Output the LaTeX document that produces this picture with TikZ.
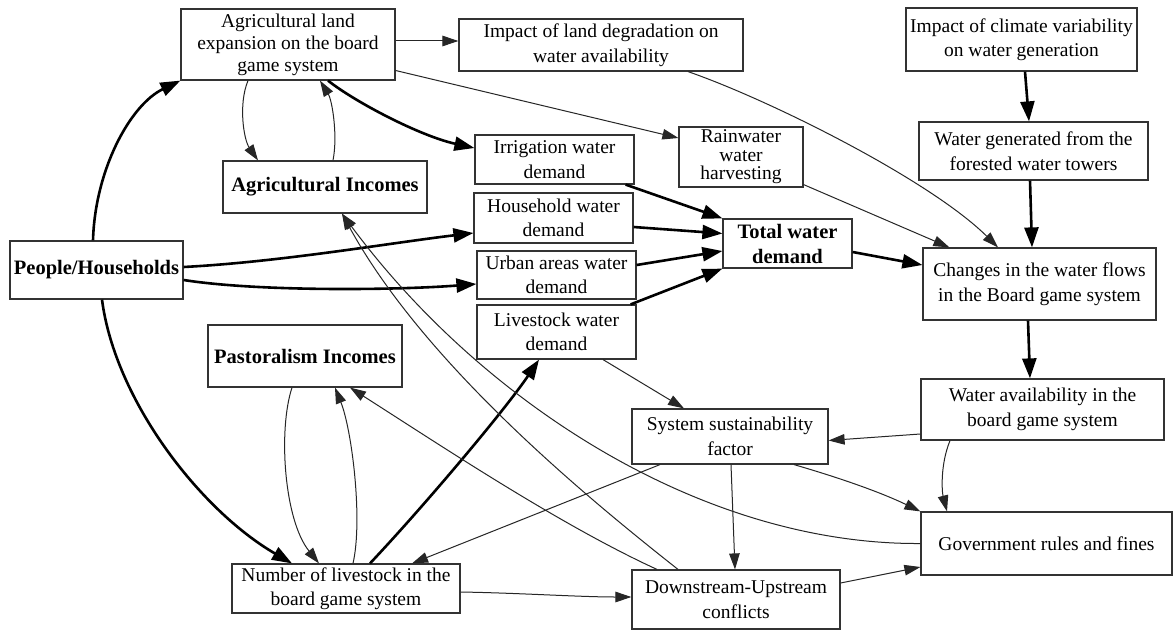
\documentclass[tikz,border=0pt]{standalone}
\usepackage{fontspec}
\setmainfont{Liberation Serif}
\usetikzlibrary{arrows.meta,calc}
\begin{document}
\begin{tikzpicture}[x=1pt,y=-1pt,
  box/.style={draw=black!80, line width=1.2pt, inner sep=0pt, align=center, fill=white,
    font=\fontsize{19.5}{24.5}\selectfont},
  bbox/.style={box, font=\fontsize{20.5}{25}\selectfont\bfseries},
  thinarr/.style={draw=black!85, line width=1pt, -{Triangle[length=16pt,width=10.5pt]}},
  thickarr/.style={draw=black, line width=2.6pt, -{Triangle[length=20pt,width=14pt]}}]
\useasboundingbox[fill=white] (0,0) rectangle (1174,631);

\node[box, minimum width=214pt, minimum height=71pt, font=\fontsize{19.5}{22}\selectfont] (AL) at (288,44.5) {Agricultural land\\expansion on the board\\game system};
\node[box, minimum width=284pt, minimum height=52pt] (ILD) at (601,45) {Impact of land degradation on\\water availability};
\node[box, minimum width=231pt, minimum height=63pt] (ICV) at (1021.5,39.5) {Impact of climate variability\\on water generation};
\node[box, minimum width=229pt, minimum height=58pt] (WG) at (1033.5,151) {Water generated from the\\forested water towers};
\node[box, minimum width=233pt, minimum height=72pt] (CWF) at (1039.5,284) {Changes in the water flows\\in the Board game system};
\node[bbox, minimum width=173pt, minimum height=58pt] (PH) at (96.5,270) {People/Households};
\node[bbox, minimum width=204pt, minimum height=52pt] (AI) at (325,187) {Agricultural Incomes};
\node[bbox, minimum width=194pt, minimum height=62pt] (PI) at (305,356) {Pastoralism Incomes};
\node[box, minimum width=159pt, minimum height=49pt] (IR) at (554.5,159.5) {Irrigation water\\demand};
\node[box, minimum width=124pt, minimum height=60pt, font=\fontsize{19.5}{18.5}\selectfont] (RW) at (741,157) {Rainwater\\water\\harvesting};
\node[box, minimum width=159pt, minimum height=50pt] (HH) at (553.5,218) {Household water\\demand};
\node[box, minimum width=159pt, minimum height=48pt] (UR) at (556.5,275) {Urban areas water\\demand};
\node[box, minimum width=159pt, minimum height=54pt] (LW) at (556.5,332) {Livestock water\\demand};
\node[bbox, minimum width=129pt, minimum height=49pt] (TW) at (787.5,243.5) {Total water\\demand};
\node[box, minimum width=196pt, minimum height=55pt] (SS) at (730,436.5) {System sustainability\\factor};
\node[box, minimum width=243pt, minimum height=61pt] (WA) at (1042.5,409.5) {Water availability in the\\board game system};
\node[box, minimum width=251pt, minimum height=63pt] (GR) at (1046.5,543.5) {Government rules and fines};
\node[box, minimum width=208pt, minimum height=59pt] (DU) at (736,599.5) {Downstream-Upstream\\conflicts};
\node[box, minimum width=228pt, minimum height=49pt] (NL) at (346,588.5) {Number of livestock in the\\board game system};

% connectors
\draw[thinarr] ($(AL.east)+(0,-3.5)$) -- ($(ILD.west)+(0,-4)$);
\draw[thinarr] ($(AL.east)+(0,26)$) -- ($(RW.west)+(0,-19)$);
\draw[thickarr] ($(AL.south)+(40,0)$) .. controls (355,102) and (420,136) .. ($(IR.west)+(0,-11.5)$);
\draw[thinarr] ($(AL.south)+(-40,0)$) .. controls (238,105) and (244,140) .. ($(AI.north)+(-67,0)$);
\draw[thinarr] ($(AI.north)+(8,0)$) .. controls (338,135) and (332,100) .. ($(AL.south)+(32,0)$);
\draw[thickarr] ($(PH.north)+(-3.5,0)$) .. controls (95,170) and (130,105) .. (AL.south west);
\draw[thickarr] ($(PH.east)+(0,-3)$) .. controls (280,262) and (390,243) .. ($(HH.west)+(0,15)$);
\draw[thickarr] ($(PH.east)+(0,10)$) .. controls (260,292) and (400,290) .. ($(UR.west)+(0,9)$);
\draw[thickarr] ($(PH.south)+(5.5,0)$) .. controls (115,400) and (200,510) .. ($(NL.north)+(-54,0)$);
\draw[thickarr] ($(IR.south east)+(-9,0)$) -- (TW.north west);
\draw[thickarr] ($(HH.east)+(0,9)$) -- ($(TW.west)+(0,-10)$);
\draw[thickarr] ($(UR.east)+(0,-10)$) -- ($(TW.west)+(0,7.5)$);
\draw[thickarr] ($(LW.north east)+(-6,0)$) -- (TW.south west);
\draw[thickarr] ($(TW.east)+(0,8.5)$) -- ($(CWF.west)+(0,-19)$);
\draw[thinarr] ($(RW.south east)+(0,-3)$) -- ($(CWF.north west)+(27,0)$);
\draw[thinarr] ($(ILD.south)+(87,0)$) .. controls (770,100) and (930,180) .. ($(CWF.north)+(-41.5,0)$);
\draw[thickarr] ($(ICV.south)+(3.5,0)$) -- ($(WG.north)+(-4.5,0)$);
\draw[thickarr] ($(WG.south)+(-3.5,0)$) -- ($(CWF.north)+(-7.5,0)$);
\draw[thickarr] ($(CWF.south)+(-11.5,0)$) -- ($(WA.north)+(-12.5,0)$);
\draw[thinarr] ($(WA.west)+(0,24.5)$) -- ($(SS.east)+(0,4)$);
\draw[thinarr] ($(WA.south)+(-92.5,0)$) .. controls (940,465) and (942,492) .. ($(GR.north)+(-99.5,0)$);
\draw[thinarr] ($(SS.south)+(64,0)$) .. controls (840,478) and (880,492) .. (GR.north west);
\draw[thinarr] ($(SS.south)+(1,0)$) -- ($(DU.north)+(-1,0)$);
\draw[thinarr] ($(SS.south)+(-70,0)$) -- ($(NL.north)+(66,0)$);
\draw[thinarr] ($(LW.south)+(46.5,0)$) -- ($(SS.north)+(-46,0)$);
\draw[thickarr] ($(NL.north)+(24,0)$) .. controls (425,505) and (505,410) .. ($(LW.south)+(-17.5,0)$);
\draw[thinarr] ($(PI.south)+(-13,0)$) .. controls (278,430) and (284,520) .. ($(NL.north)+(-27,0)$);
\draw[thinarr] ($(NL.north)+(7,0)$) .. controls (363,520) and (352,430) .. ($(PI.south)+(30,0)$);
\draw[thinarr] ($(DU.north)+(-79,0)$) .. controls (560,525) and (440,445) .. ($(PI.south)+(45,0)$);
\draw[thinarr] ($(DU.north)+(-58,0)$) .. controls (590,500) and (425,365) .. ($(AI.south)+(17,0)$);
\draw[thinarr] (GR.west) .. controls (700,545) and (480,400) .. ($(AI.south)+(17,0)$);
\draw[thinarr] ($(NL.east)+(0,3.5)$) .. controls (520,593) and (580,597) .. ($(DU.west)+(0,-2.5)$);
\draw[thinarr] ($(DU.east)+(0,-16.5)$) -- ($(GR.west)+(0,23.5)$);
\end{tikzpicture}
\end{document}
